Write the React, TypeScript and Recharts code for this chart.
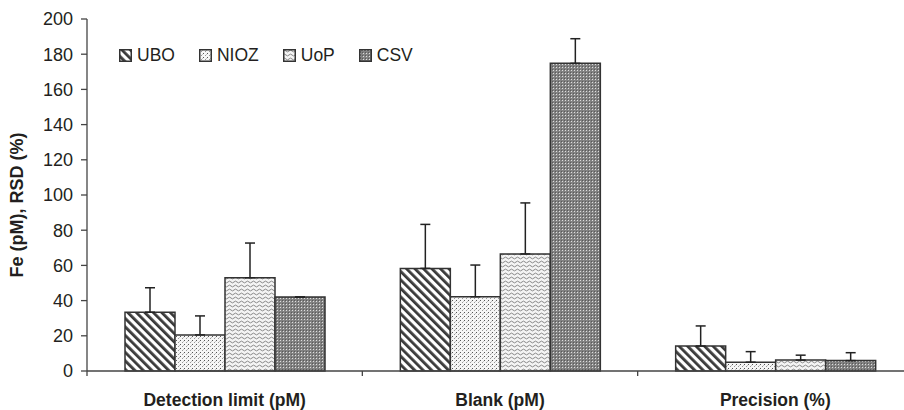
import React from "react";
import {
  BarChart,
  Bar,
  XAxis,
  YAxis,
  Legend,
  ErrorBar,
} from "recharts";

const categories = ["Detection limit (pM)", "Blank (pM)", "Precision (%)"];
const series = ["UBO", "NIOZ", "UoP", "CSV"];

const ubo = [33.4, 58.3, 14.2];
const nioz = [20.5, 42.2, 5];
const uop = [53, 66.5, 6.2];
const csv = [42, 174.8, 5.9];

// upper error only
const uboErr = [13.9, 25, 11.4];
const niozErr = [10.8, 18, 6];
const uopErr = [19.7, 29, 2.8];
const csvErr = [0, 14, 4.5];

const yTicks = [0, 20, 40, 60, 80, 100, 120, 140, 160, 180, 200];

const FONT = "'Liberation Sans', Arial, sans-serif";
const INK = "#231f20";

const fills: Record<string, string> = {
  UBO: "url(#pat-ubo)",
  NIOZ: "url(#pat-nioz)",
  UoP: "url(#pat-uop)",
  CSV: "url(#pat-csv)",
};

const values = [ubo, nioz, uop, csv];
const errors = [uboErr, niozErr, uopErr, csvErr];

const data = categories.map((name, i) => {
  const row: any = { name };
  series.forEach((s, k) => {
    row[s] = values[k][i];
    row[s + "_err"] = [0, errors[k][i]];
  });
  return row;
});

const Patterns = () => (
  <defs>
    <pattern
      id="pat-ubo"
      width="6"
      height="6"
      patternUnits="userSpaceOnUse"
      patternTransform="rotate(-45)"
    >
      <rect width="6" height="6" fill="#fff" />
      <rect width="2.8" height="6" fill="#3a3a3a" />
    </pattern>
    <pattern id="pat-nioz" width="4" height="4" patternUnits="userSpaceOnUse">
      <rect width="4" height="4" fill="#f6f6f6" />
      <rect x="0" y="0" width="1" height="1" fill="#555" />
      <rect x="2" y="2" width="1" height="1" fill="#999" />
      <rect x="3" y="1" width="1" height="1" fill="#c4c4c4" />
    </pattern>
    <pattern id="pat-uop" width="6" height="4" patternUnits="userSpaceOnUse">
      <rect width="6" height="4" fill="#f4f4f4" />
      <path d="M0 2 Q1.5 0.2 3 2 T6 2" stroke="#7a7a7a" strokeWidth="0.9" fill="none" />
    </pattern>
    <pattern id="pat-csv" width="3" height="3" patternUnits="userSpaceOnUse">
      <rect width="3" height="3" fill="#828282" />
      <rect x="1" y="1" width="1" height="1" fill="#dedede" />
      <rect x="0" y="0" width="1" height="1" fill="#5a5a5a" />
    </pattern>
  </defs>
);

const LegendContent = () => (
  <div
    style={{
      display: "flex",
      alignItems: "center",
      fontFamily: FONT,
      fontSize: 17.5,
      color: INK,
      lineHeight: "20px",
    }}
  >
    {series.map((s) => (
      <div
        key={s}
        style={{ display: "flex", alignItems: "center", marginRight: 24 }}
      >
        <svg width={13} height={13} style={{ marginRight: 5 }}>
          <rect
            x={0.75}
            y={0.75}
            width={11.5}
            height={11.5}
            fill={fills[s]}
            stroke="#333"
            strokeWidth={1.5}
          />
        </svg>
        <span>{s}</span>
      </div>
    ))}
  </div>
);

const CategoryTick = (props: any) => {
  const { x, y, payload, index } = props;
  const half = payload.offset || 0;
  return (
    <g>
      {index === 0 && (
        <line x1={x - half} y1={y} x2={x - half} y2={y + 5} stroke="#444" strokeWidth={1.3} />
      )}
      {index < categories.length - 1 && (
        <line x1={x + half} y1={y} x2={x + half} y2={y + 5} stroke="#444" strokeWidth={1.3} />
      )}
      <text
        x={x}
        y={y + 35}
        textAnchor="middle"
        fontFamily={FONT}
        fontSize={17.5}
        fontWeight="bold"
        fill={INK}
      >
        {payload.value}
      </text>
    </g>
  );
};

const App: React.FC = () => {
  return (
    <div
      style={{
        position: "absolute",
        left: 0,
        top: 0,
        width: 904,
        height: 410,
        overflow: "hidden",
        background: "#fff",
      }}
    >
      <BarChart
        width={913}
        height={410}
        data={data}
        margin={{ top: 19, right: 0, bottom: 0, left: 0 }}
        barGap={0}
        barSize={50}
      >
        <Patterns />
        <XAxis
          dataKey="name"
          height={39}
          tickSize={0}
          tickMargin={0}
          tickLine={false}
          axisLine={{ stroke: "#444", strokeWidth: 1.3 }}
          tick={<CategoryTick />}
          interval={0}
        />
        <YAxis
          width={87}
          domain={[0, 200]}
          ticks={yTicks}
          interval={0}
          tickSize={6}
          tickMargin={8}
          axisLine={{ stroke: "#444", strokeWidth: 1.3 }}
          tickLine={{ stroke: "#444", strokeWidth: 1.3 }}
          tick={{ fontFamily: FONT, fontSize: 18, fill: INK }}
          label={{
            value: "Fe (pM), RSD (%)",
            angle: -90,
            position: "insideLeft",
            offset: 0,
            dx: 17,
            dy: 10,
            style: {
              fontFamily: FONT,
              fontSize: 18,
              fontWeight: "bold",
              fill: INK,
              textAnchor: "middle",
            },
          }}
        />
        <Legend
          layout="horizontal"
          verticalAlign="middle"
          align="center"
          content={<LegendContent />}
          wrapperStyle={{ top: 45, left: 119, width: "auto", height: 20 }}
        />
        {series.map((s) => (
          <Bar
            key={s}
            dataKey={s}
            fill={fills[s]}
            stroke="#333"
            strokeWidth={1.5}
            isAnimationActive={false}
          >
            <ErrorBar
              dataKey={s + "_err"}
              direction="y"
              width={5}
              stroke="#222"
              strokeWidth={1.5}
            />
          </Bar>
        ))}
      </BarChart>
    </div>
  );
};

export default App;
